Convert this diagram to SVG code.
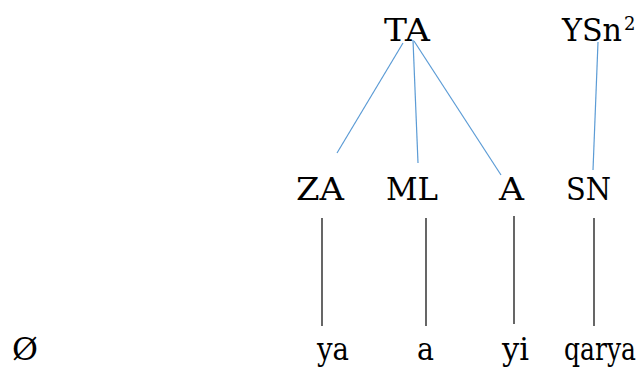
<svg xmlns="http://www.w3.org/2000/svg" width="643" height="372" viewBox="0 0 643 372">
<style>
text{font-family:'DejaVu Serif','Liberation Serif',serif;font-size:32px;fill:#000}
.sup{font-size:18px}
.blue{stroke:#5b9bd5;stroke-width:1.2;fill:none}
.blk{stroke:#000;stroke-width:1.2;fill:none}
</style>
<rect width="643" height="372" fill="#fff"/>
<g id="connectors">
<line class="blue" x1="403" y1="43" x2="337" y2="153"/>
<line class="blue" x1="413" y1="40" x2="418" y2="163"/>
<line class="blue" x1="414" y1="41" x2="501" y2="175"/>
<line class="blue" x1="598" y1="42" x2="593" y2="170"/>
<line class="blk" x1="322" y1="218" x2="322" y2="326"/>
<line class="blk" x1="426" y1="218" x2="426" y2="326"/>
<line class="blk" x1="514" y1="216" x2="514" y2="324"/>
<line class="blk" x1="594" y1="218" x2="594" y2="326"/>
</g>
<g id="TA"><text x="384" y="41" textLength="46" lengthAdjust="spacingAndGlyphs">TA</text></g>
<g id="YSn2"><text x="562" y="41"><tspan textLength="60" lengthAdjust="spacingAndGlyphs">YSn</tspan><tspan class="sup" x="624" y="30">2</tspan></text></g>
<g id="ZA"><text x="296" y="200" textLength="48" lengthAdjust="spacingAndGlyphs">ZA</text></g>
<g id="ML"><text x="386" y="200" textLength="52" lengthAdjust="spacingAndGlyphs">ML</text></g>
<g id="A"><text x="499" y="200" textLength="25" lengthAdjust="spacingAndGlyphs">A</text></g>
<g id="SN"><text x="566" y="200" textLength="45" lengthAdjust="spacingAndGlyphs">SN</text></g>
<g id="empty"><text x="12" y="360" textLength="26" lengthAdjust="spacingAndGlyphs">Ø</text></g>
<g id="ya"><text x="317" y="360" textLength="32" lengthAdjust="spacingAndGlyphs">ya</text></g>
<g id="a"><text x="417" y="360" textLength="17" lengthAdjust="spacingAndGlyphs">a</text></g>
<g id="yi"><text x="502" y="360" textLength="27" lengthAdjust="spacingAndGlyphs">yi</text></g>
<g id="qarya"><text x="564" y="360" textLength="72" lengthAdjust="spacingAndGlyphs">qarya</text></g>
</svg>
